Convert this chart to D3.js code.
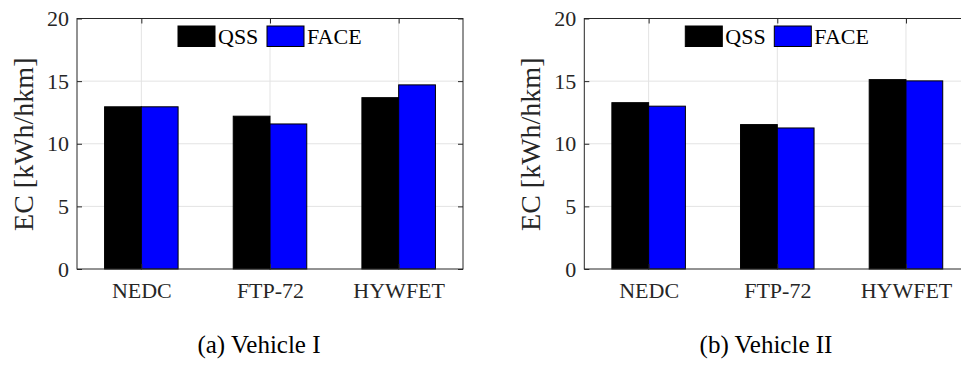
<!DOCTYPE html>
<html>
<head>
<meta charset="utf-8">
<script src="https://cdn.jsdelivr.net/npm/d3@7"></script>
<style>
  body { margin: 0; background: #fff; }
  svg { display: block; }
  svg text { font-family: 'Liberation Serif', 'Times New Roman', serif !important; }
</style>
</head>
<body>
<div id="vis"></div>
<script>
const WIDTH = 961;
const HEIGHT = 365;
const SERIF = "'Liberation Serif', 'Times New Roman', serif";

// data
const categories = ["NEDC", "FTP-72", "HYWFET"];
const seriesNames = ["QSS", "FACE"];
const seriesColors = ["#000000", "#0000ff"];
const qssV1 = [12.95, 12.2, 13.68];
const faceV1 = [12.95, 11.58, 14.7];
const qssV2 = [13.28, 11.53, 15.12];
const faceV2 = [13.0, 11.26, 15.02];
const yTicks = [0, 5, 10, 15, 20];
const captions = ["(a) Vehicle I", "(b) Vehicle II"];

const PANEL_W = 386;
const TOP = 18.5;
const BOTTOM = 269;
const BAR_W = 2 / 3.5 / 2; // matlab grouped bar width per series

const svg = d3.select("#vis")
  .append("svg")
    .attr("width", WIDTH)
    .attr("height", HEIGHT)
    .style("font-family", SERIF);

function drawPanel(left, qss, face, caption, capX) {
  const g = svg.append("g");

  const xScale = d3.scaleLinear()
    .domain([0.5, 3.5])
    .range([left, left + PANEL_W]);

  const yScale = d3.scaleLinear()
    .domain([0, 20])
    .range([BOTTOM, TOP]);

  // grid
  g.selectAll(".hgrid")
    .data(yTicks.slice(1, -1))
    .enter()
    .append("line")
      .attr("x1", left).attr("x2", left + PANEL_W)
      .attr("y1", d => yScale(d)).attr("y2", d => yScale(d))
      .attr("stroke", "#e3e3e3").attr("stroke-width", 1);

  g.selectAll(".vgrid")
    .data([1, 2, 3])
    .enter()
    .append("line")
      .attr("x1", d => xScale(d)).attr("x2", d => xScale(d))
      .attr("y1", TOP).attr("y2", BOTTOM)
      .attr("stroke", "#e3e3e3").attr("stroke-width", 1);

  // bars
  const series = [qss, face];
  series.forEach((vals, s) => {
    g.selectAll(".bar" + s)
      .data(vals)
      .enter()
      .append("rect")
        .attr("x", (d, i) => xScale(i + 1 + (s - 1) * BAR_W))
        .attr("y", d => yScale(d))
        .attr("width", (d, i) => xScale(i + 1 + s * BAR_W) - xScale(i + 1 + (s - 1) * BAR_W))
        .attr("height", d => BOTTOM - yScale(d))
        .attr("fill", seriesColors[s])
        .attr("stroke", "#000")
        .attr("stroke-width", 1);
  });

  // axes
  const yAxis = g.append("g")
    .attr("transform", "translate(" + left + ",0)")
    .call(d3.axisLeft(yScale).tickValues(yTicks).tickSize(-5).tickSizeOuter(0).tickPadding(8));

  const xAxis = g.append("g")
    .attr("transform", "translate(0," + BOTTOM + ")")
    .call(d3.axisBottom(xScale).tickValues([1, 2, 3])
      .tickFormat(d => categories[d - 1]).tickSize(-5).tickSizeOuter(0));

  g.append("g")
    .attr("transform", "translate(0," + TOP + ")")
    .call(d3.axisTop(xScale).tickValues([1, 2, 3]).tickFormat("").tickSize(-5).tickSizeOuter(0));

  g.append("g")
    .attr("transform", "translate(" + (left + PANEL_W) + ",0)")
    .call(d3.axisRight(yScale).tickValues(yTicks).tickFormat("").tickSize(-5).tickSizeOuter(0));

  g.selectAll(".domain").remove();
  g.selectAll(".tick line").attr("stroke", "#262626");
  g.selectAll("g").attr("font-family", null);

  yAxis.selectAll("text")
    .attr("font-size", 22)
    .attr("fill", "#262626");

  xAxis.selectAll("text")
    .attr("font-size", 22)
    .attr("fill", "#262626")
    .attr("y", 29)
    .attr("dy", null);

  // box
  g.append("rect")
    .attr("x", left).attr("y", TOP)
    .attr("width", PANEL_W).attr("height", BOTTOM - TOP)
    .attr("fill", "none")
    .attr("stroke", "#262626")
    .attr("stroke-width", 1);

  // y label
  g.append("text")
    .attr("transform", "translate(" + (left - 44) + "," + ((TOP + BOTTOM) / 2 + 0.5) + ") rotate(-90)")
    .attr("text-anchor", "middle")
    .attr("font-size", 28)
    .attr("fill", "#262626")
    .text("EC [kWh/hkm]");

  // legend
  const lx = left + 101;
  const legend = g.append("g");
  const itemX = [lx, lx + 89];
  seriesNames.forEach((name, s) => {
    legend.append("rect")
      .attr("x", itemX[s]).attr("y", 26)
      .attr("width", 37).attr("height", 20.5)
      .attr("fill", seriesColors[s])
      .attr("stroke", "#000");
    legend.append("text")
      .attr("x", itemX[s] + 40).attr("y", 44)
      .attr("font-size", 22)
      .attr("fill", "#000")
      .text(name);
  });

  // caption
  svg.append("text")
    .attr("x", capX).attr("y", 353)
    .attr("text-anchor", "middle")
    .attr("font-size", 25)
    .attr("fill", "#000")
    .text(caption);
}

drawPanel(77, qssV1, faceV1, captions[0], 259);
drawPanel(584.3, qssV2, faceV2, captions[1], 766);
</script>
</body>
</html>
